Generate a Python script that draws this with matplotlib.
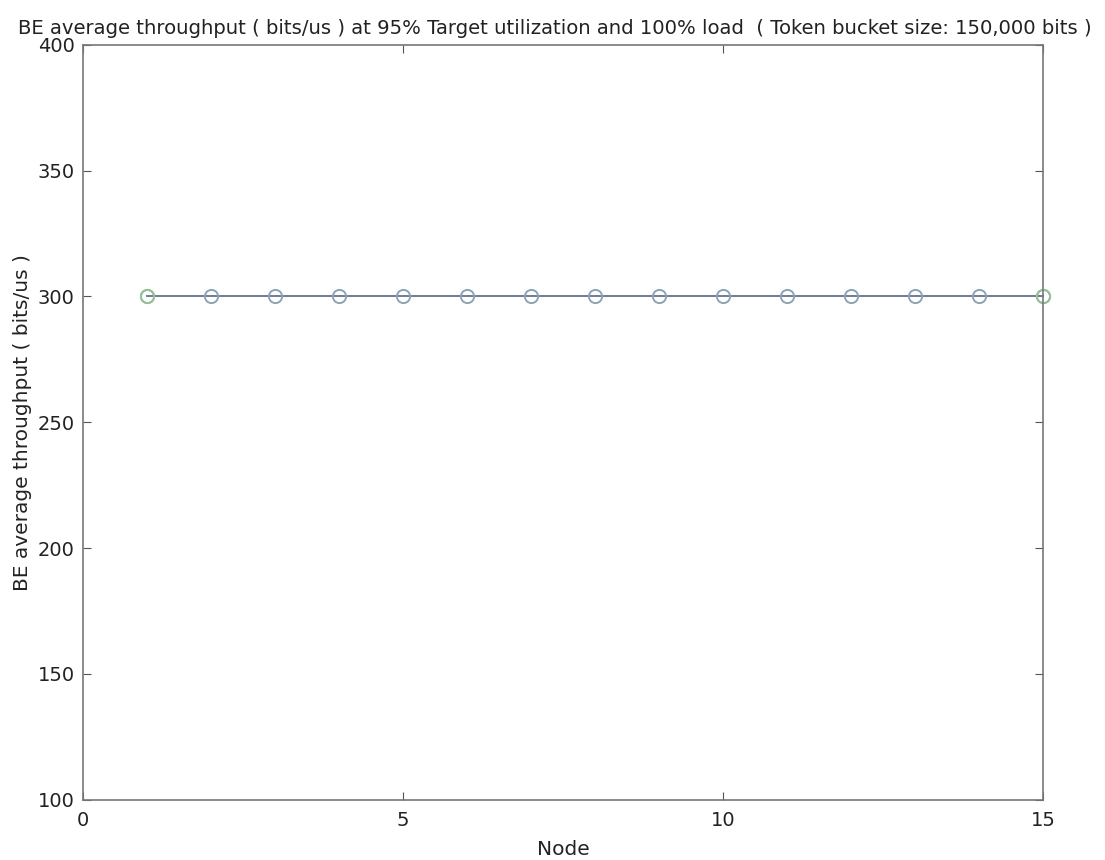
import matplotlib
matplotlib.use("Agg")
import matplotlib.pyplot as plt
import numpy as np

nodes = np.arange(1, 16)
throughput = [300, 300, 300, 300, 300, 300, 300, 300, 300, 300, 300, 300, 300, 300, 300]
end_nodes = [1, 15]
end_throughput = [300, 300]

plt.rcParams["font.family"] = ["DejaVu Sans"]

fig = plt.figure(figsize=(11.05, 8.6), dpi=100)
ax = fig.add_axes([0.075, 0.070, 0.869, 0.878])

ax.plot(nodes, throughput, color="#6f7d92", linewidth=1.4, marker="o",
        markersize=9.5, markerfacecolor="none", markeredgecolor="#8ea3b6",
        markeredgewidth=1.4, clip_on=False)
ax.plot(end_nodes, end_throughput, linestyle="none", marker="o", markersize=9.5,
        markerfacecolor="none", markeredgecolor="#96c296", markeredgewidth=1.4,
        clip_on=False)

ax.set_xlim(0, 15)
ax.set_ylim(100, 400)
ax.set_xticks([0, 5, 10, 15])
ax.set_yticks([100, 150, 200, 250, 300, 350, 400])
ax.tick_params(direction="in", top=True, right=True, length=6, labelsize=14,
               color="#555555", labelcolor="#222222", pad=6)
ax.tick_params(axis="x", pad=8)
for s in ax.spines.values():
    s.set_color("#777777")
    s.set_linewidth(1.2)

ax.set_xlabel("Node", fontsize=14.5, labelpad=7, color="#222222")
ax.set_ylabel("BE average throughput ( bits/us )", fontsize=14.5, labelpad=4,
              color="#222222")
ax.set_title("BE average throughput ( bits/us ) at 95% Target utilization and 100% load  ( Token bucket size: 150,000 bits )",
             fontsize=14.1, pad=8, x=0.4917, color="#222222")

fig.savefig("out.png", dpi=100)
